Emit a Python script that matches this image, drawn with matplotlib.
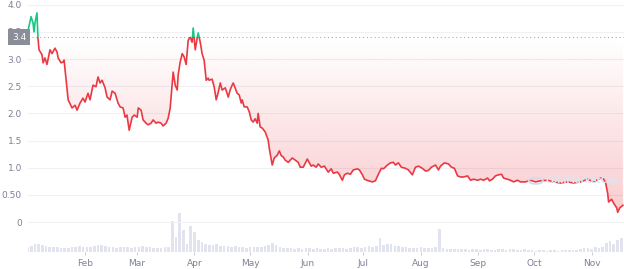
import numpy as np
import pandas as pd
import matplotlib; matplotlib.use("Agg")
import matplotlib.pyplot as plt
from matplotlib.patches import Polygon, Rectangle, Circle

# price, days since 2022-01-01
days = [0, 1.9, 3.0, 3.5, 4.0, 5.1, 5.6, 6.2, 7.8, 8.4, 9.4, 10.5, 12.1, 13.2, 14.8, 15.9, 16.5,
        18.1, 19.2, 19.7, 20.8, 21.9, 24.0, 25.6, 26.7, 28.3, 29.9, 31.0, 32.6, 33.7, 35.3, 36.9,
        38.0, 39.1, 40.2, 41.8, 42.9, 44.5, 45.6, 47.2, 48.8, 49.9, 51.5, 52.6, 53.6, 54.8, 56.4,
        57.5, 59.1, 59.7, 61.2, 62.3, 63.9, 65.0, 66.6, 67.7, 69.3, 70.4, 72.0, 73.1, 74.7, 75.8,
        76.9, 78.0, 78.5, 79.6, 80.7, 81.2, 82.3, 83.4, 84.4, 85.5, 86.6, 87.7, 88.7, 89.3, 90.4,
        91.5, 92.0, 93.1, 94.1, 95.2, 96.3, 97.4, 97.9, 99.5, 100.6, 101.7, 102.8, 103.9, 104.9,
        106.6, 108.2, 109.2, 110.3, 110.9, 113.0, 114.1, 115.2, 115.7, 116.8, 118.4, 119.5, 120.6,
        121.6, 122.7, 123.8, 124.3, 125.4, 126.5, 128.1, 129.7, 130.3, 131.9, 133.0, 134.6, 135.7,
        136.8, 137.8, 138.9, 140.5, 141.6, 142.7, 144.3, 145.9, 147.0, 148.6, 150.8, 151.8, 152.9,
        154.0, 155.6, 156.7, 158.3, 160.0, 162.1, 163.7, 164.8, 167.0, 168.0, 169.7, 170.8, 172.4,
        174.0, 175.6, 177.8, 178.9, 180.5, 181.6, 183.7, 185.9, 187.5, 189.1, 190.7, 191.8, 194.0,
        195.6, 197.2, 198.3, 199.9, 201.5, 203.7, 205.3, 207.4, 209.1, 210.7, 212.8, 214.5, 216.1,
        217.7, 219.9, 221.5, 222.6, 224.7, 226.9, 228.5, 230.1, 231.8, 233.4, 235.0, 237.2, 238.8,
        240.4, 242.6, 244.2, 245.8, 248.0, 249.0, 250.6, 252.2, 253.8, 255.5, 256.6, 258.7, 260.3,
        262.0, 264.1, 265.7, 268.4, 271.1, 273.8, 276.5, 280.3, 283.5, 287.3, 291.1, 294.3, 298.1,
        301.9, 305.1, 308.9, 310.5, 311.6, 312.7, 313.2, 314.8, 315.9, 317.6, 318.1, 319.2, 320.9]
price = [3.48, 3.78, 3.66, 3.50, 3.66, 3.85, 3.40, 3.17, 3.08, 2.93, 3.02, 2.90, 3.17, 3.10, 3.20,
         3.13, 3.02, 2.93, 2.95, 2.98, 2.61, 2.25, 2.10, 2.15, 2.06, 2.19, 2.28, 2.21, 2.37, 2.25,
         2.52, 2.49, 2.67, 2.56, 2.61, 2.47, 2.30, 2.25, 2.41, 2.37, 2.19, 2.12, 2.10, 1.93, 1.97,
         1.69, 1.93, 1.97, 1.93, 2.10, 2.06, 1.88, 1.82, 1.79, 1.82, 1.88, 1.82, 1.84, 1.82, 1.77,
         1.82, 1.91, 2.10, 2.56, 2.76, 2.52, 2.43, 2.71, 2.95, 3.10, 3.04, 2.90, 3.35, 3.40, 3.31,
         3.57, 3.17, 3.40, 3.48, 3.31, 3.10, 2.98, 2.61, 2.65, 2.61, 2.63, 2.49, 2.25, 2.39, 2.56,
         2.43, 2.47, 2.30, 2.43, 2.52, 2.56, 2.37, 2.34, 2.19, 2.25, 2.12, 2.12, 2.03, 1.88, 1.84,
         1.90, 1.82, 2.00, 1.75, 1.73, 1.66, 1.51, 1.36, 1.05, 1.18, 1.23, 1.31, 1.22, 1.20, 1.14,
         1.10, 1.14, 1.18, 1.14, 1.10, 1.01, 1.01, 1.16, 1.10, 1.03, 1.05, 1.01, 1.07, 1.01, 1.03,
         0.92, 0.98, 0.90, 0.92, 0.88, 0.77, 0.87, 0.90, 0.88, 0.96, 0.98, 0.96, 0.87, 0.79, 0.76,
         0.74, 0.76, 0.88, 0.99, 0.98, 1.05, 1.09, 1.10, 1.05, 1.09, 1.01, 0.99, 0.96, 0.87, 1.01,
         1.03, 0.99, 0.94, 0.95, 1.01, 1.05, 0.96, 1.03, 1.09, 1.07, 1.01, 0.99, 0.85, 0.83, 0.83,
         0.85, 0.77, 0.79, 0.77, 0.79, 0.77, 0.81, 0.76, 0.79, 0.85, 0.87, 0.88, 0.81, 0.79, 0.77,
         0.74, 0.77, 0.74, 0.74, 0.77, 0.74, 0.76, 0.77, 0.74, 0.72, 0.74, 0.72, 0.74, 0.79, 0.74,
         0.81, 0.79, 0.72, 0.53, 0.37, 0.42, 0.35, 0.26, 0.18, 0.26, 0.31]

# volume (relative units), one bar every 2 days from day 0
vol_days = list(range(0, 321, 2))
volume = [5, 6, 8, 8, 7, 6,
          5, 5, 5, 4, 4, 4, 5, 5, 6, 5,
          5, 5, 6, 7, 7, 6, 5, 5, 4, 5, 5,
          5, 4, 5, 5, 6, 5, 5, 4, 4, 4, 5, 5,
          31, 15, 39, 22, 8, 26, 20, 12, 10, 8, 7, 7, 8, 6,
          6, 6, 5, 6, 5, 5, 4, 5, 5, 5, 5, 6, 7,
          9, 7,
          5, 4, 4, 4, 3, 4, 3, 4, 4, 3, 4, 3, 3, 4, 3, 4, 4, 4, 3, 4, 5,
          5, 4, 5, 6, 5, 6, 14,
          7, 8, 8, 6, 6,
          5, 5, 4, 4, 4, 5, 4, 4, 4, 5,
          23,
          4, 3, 3, 3, 3, 3, 3, 2, 3, 3, 2, 3, 3, 2, 2, 3, 3, 2, 3, 3, 2, 2, 3, 2,
          2, 1, 2, 2, 1, 2, 2, 1, 2, 2, 2, 2, 2,
          3, 4, 4, 3, 5, 4, 5,
          9, 11, 8, 12, 14]

ref_price = 3.4
yticks = [4.0, 3.5, 3.0, 2.5, 2.0, 1.5, 1.0, 0.5, 0]
ylabels = ["4.0", "3.5", "3.0", "2.5", "2.0", "1.5", "1.0", "0.50", "0"]
start = pd.Timestamp("2022-01-01")
months = pd.date_range("2022-02-01", "2022-11-01", freq="MS")
mdays = [(m - start).days for m in months]
mlabels = [m.strftime("%b") for m in months]

RED, GREEN, GREY = "#ea3943", "#16c784", "#7d8293"
d = np.array(days); p = np.array(price)

fig = plt.figure(figsize=(6.24, 2.69), dpi=100)
ax = fig.add_axes([0.0441, 0.0632, 0.9559, 0.9294])
ax2 = ax.twinx()
ax.set_zorder(ax2.get_zorder() + 1); ax.patch.set_visible(False)

ax2.bar(vol_days, volume, width=1.4, color="#e1e4ee", lw=0)
ax2.set_ylim(0, 250); ax2.set_yticks([])

for t in yticks:
    ax.axhline(t, color="#eff1f5", lw=0.8, zorder=0)

# gradient fill between line and reference price (transparent at the reference line)
low = np.minimum(p, ref_price)
poly = Polygon(np.column_stack([np.r_[d, d[::-1]], np.r_[low, np.full_like(d, ref_price)]]),
               closed=True, fc="none", ec="none", transform=ax.transData)
ax.add_patch(poly)
grad = np.zeros((100, 1, 4))
grad[..., 0], grad[..., 1], grad[..., 2] = 234 / 255, 57 / 255, 67 / 255
grad[:, 0, 3] = np.linspace(0.0, 0.27, 100)
im = ax.imshow(grad, extent=[d[0], d[-1], 0, ref_price], aspect="auto", zorder=1,
               interpolation="bilinear", origin="upper")
im.set_clip_path(poly)
ax.set_xlim(0, 321.5); ax.set_ylim(-0.55, 4.05)

ax.axhline(ref_price, color="#a9adb6", lw=0.8, ls=(0, (1, 2.5)), zorder=2)

l1, = ax.plot(d, p, color=RED, lw=1.2, zorder=3)
l2, = ax.plot(d, p, color=GREEN, lw=1.2, zorder=3)
l1.set_clip_path(Rectangle((-10, -1), 400, ref_price + 1, transform=ax.transData))
l2.set_clip_path(Rectangle((-10, ref_price), 400, 5, transform=ax.transData))

ax.set_yticks(yticks); ax.set_yticklabels(ylabels)
ax.set_xticks(mdays); ax.set_xticklabels(mlabels)
ax.tick_params(axis="y", length=0, pad=4, labelsize=6.5, labelcolor=GREY)
ax.tick_params(axis="x", length=2, width=0.6, color="#c0c4cc", pad=3, labelsize=6.5, labelcolor=GREY)
for a in (ax, ax2):
    for s in a.spines.values(): s.set_visible(False)

ax.annotate("3.4", xy=(-0.002, ref_price), xycoords=("axes fraction", "data"), ha="right",
            va="center", fontsize=6.5, color="white",
            bbox=dict(boxstyle="square,pad=0.4", fc="#8a8e99", ec="none"), zorder=10,
            annotation_clip=False)
# faint watermark
ax.add_patch(Circle((0.852, 0.284), 0.012, transform=ax.transAxes, fc="none", ec="#d3dae8",
                    lw=1.2, zorder=4, clip_on=False))
ax.text(0.868, 0.284, "CoinMarketCap", transform=ax.transAxes, fontsize=6.2, fontweight="bold",
        color="#dfe4ee", ha="left", va="center", zorder=4)

plt.savefig("out.png", dpi=100)
